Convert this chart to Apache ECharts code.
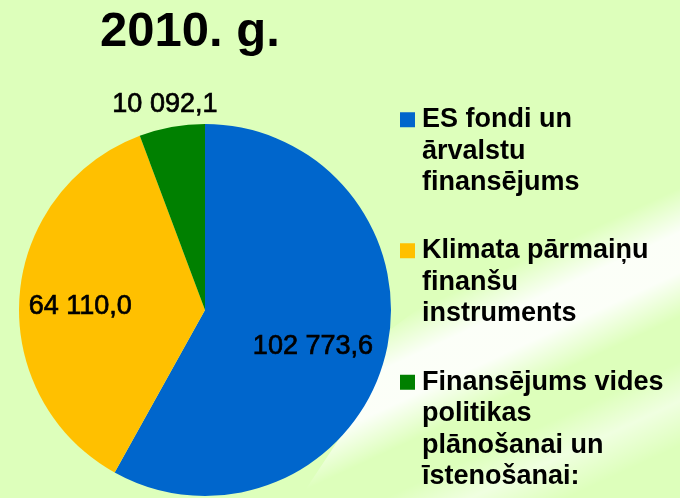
<!DOCTYPE html>
<html>
<head>
    <meta charset="utf-8">
    <title>2010. g.</title>
    <script src="https://cdn.jsdelivr.net/npm/echarts@6/dist/echarts.min.js"></script>
    <style>
        html, body { margin: 0; padding: 0; }
    </style>
</head>
<body>
    <div id="main" style="width: 680px;height:498px;"></div>
    <script type="text/javascript">
        // dati
        var titleText = '2010. g.';
        var categories = [
            'ES fondi un\nārvalstu\nfinansējums',
            'Klimata pārmaiņu\nfinanšu\ninstruments',
            'Finansējums vides\npolitikas\nplānošanai un\nīstenošanai:'
        ];
        var values = [102773.6, 64110.0, 10092.1];
        var colors = ['#0066cc', '#ffc000', '#008000'];

        var font = '"Liberation Sans", Arial, sans-serif';

        // 102773.6 -> "102 773,6"
        function fmt(v) {
            var parts = v.toFixed(1).split('.');
            return parts[0].replace(/\B(?=(\d{3})+(?!\d))/g, ' ') + ',' + parts[1];
        }

        var myChart = echarts.init(document.getElementById('main'));

        // marķieri pie pirmās rindas: tukšas rindas virs teksta
        function legendFor(i, top) {
            return {
                orient: 'vertical',
                left: 400,
                top: top,
                padding: 0,
                icon: 'rect',
                itemWidth: 15,
                itemHeight: 15,
                selectedMode: false,
                data: [categories[i]],
                formatter: function (name) {
                    var n = name.split('\n').length - 1;
                    return new Array(n + 1).join('\n') + name;
                },
                textStyle: {
                    color: '#000',
                    fontFamily: font,
                    fontWeight: 'bold',
                    fontSize: 27,
                    lineHeight: 31.5,
                    padding: [0, 0, 0, 2]
                }
            };
        }

        var labelShift = [[15, 12], [-29, 4], [-23, -111]];

        // fona baltās joslas (slīps gradients)
        var swoosh = {
            type: 'linear', global: true,
            x: 440, y: 120, x2: 629, y2: 529,
            colorStops: [
                { offset: 0, color: 'rgba(255,255,255,0)' },
                { offset: 0.36, color: 'rgba(255,255,255,0)' },
                { offset: 0.45, color: 'rgba(255,255,255,0.9)' },
                { offset: 0.53, color: 'rgba(255,255,255,0.9)' },
                { offset: 0.62, color: 'rgba(255,255,255,0)' },
                { offset: 0.71, color: 'rgba(255,255,255,0)' },
                { offset: 0.79, color: 'rgba(255,255,255,0.55)' },
                { offset: 0.88, color: 'rgba(255,255,255,0)' },
                { offset: 1, color: 'rgba(255,255,255,0)' }
            ]
        };

        var option = {
            backgroundColor: '#ddffbb',
            animation: false,
            title: {
                text: titleText,
                left: 100,
                top: 8,
                padding: 0,
                textStyle: {
                    color: '#000',
                    fontFamily: font,
                    fontWeight: 'bold',
                    fontSize: 49
                }
            },
            graphic: [
                {
                    type: 'polygon',
                    z: -10,
                    silent: true,
                    shape: {
                        points: [[300, 498], [345, 430], [390, 330], [680, 110], [680, 498]]
                    },
                    style: { fill: swoosh }
                }
            ],
            legend: [legendFor(0, 41), legendFor(1, 172), legendFor(2, 272)],
            series: [{
                type: 'pie',
                center: [205, 310],
                radius: 186,
                startAngle: 90,
                clockwise: true,
                itemStyle: { borderWidth: 0 },
                label: {
                    show: true,
                    position: 'inside',
                    color: '#000',
                    fontFamily: font,
                    fontSize: 27,
                    textBorderColor: '#000',
                    textBorderWidth: 0.7,
                    formatter: function (p) { return fmt(p.value); }
                },
                labelLine: { show: false },
                labelLayout: function (p) {
                    return { dx: labelShift[p.dataIndex][0], dy: labelShift[p.dataIndex][1] };
                },
                emphasis: { disabled: true },
                data: categories.map(function (c, i) {
                    return { name: c, value: values[i], itemStyle: { color: colors[i] } };
                })
            }]
        };

        myChart.setOption(option);
    </script>
</body>
</html>
